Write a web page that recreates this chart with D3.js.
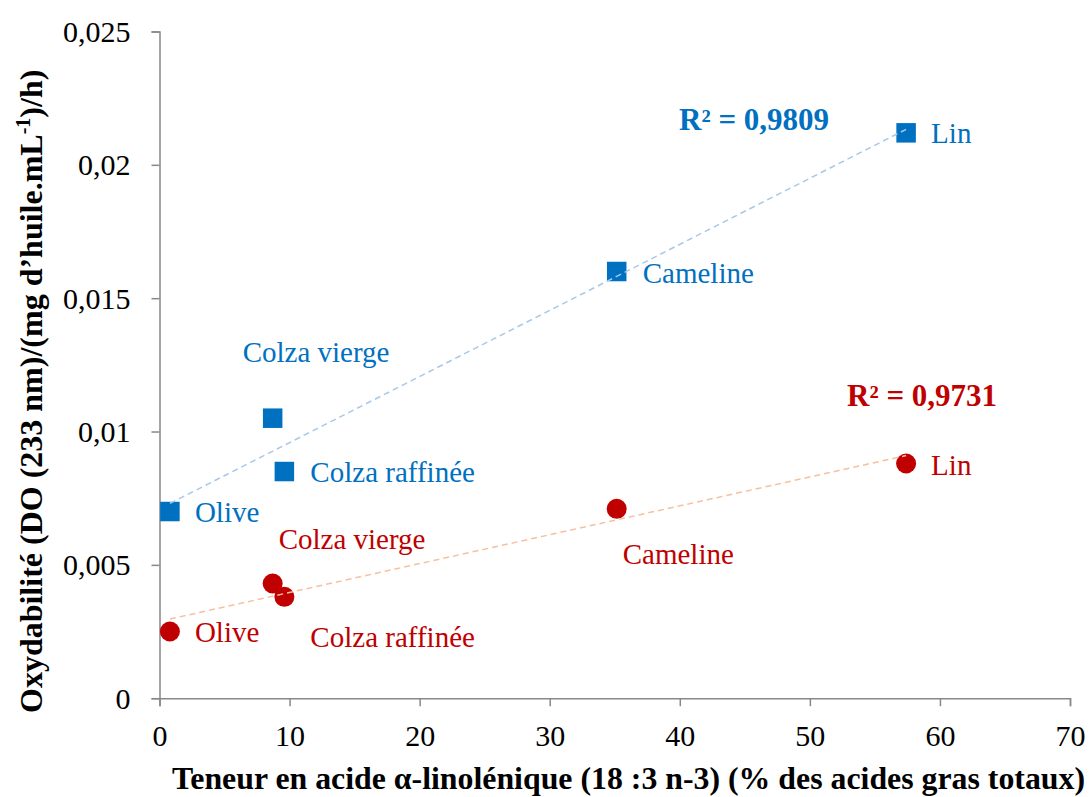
<!DOCTYPE html>
<html>
<head>
<meta charset="utf-8">
<script src="https://cdn.jsdelivr.net/npm/d3@7"></script>
<style>
  html, body { margin: 0; padding: 0; background: #fff; }
  svg { display: block; }
</style>
</head>
<body>
<svg id="chart" width="1089" height="797"></svg>
<script>
// Oils and their alpha-linolenic acid content (% of total fatty acids)
const oils = ["Olive", "Colza vierge", "Colza raffinée", "Cameline", "Lin"];
const alaContent = [0.8, 8.7, 9.6, 35.15, 57.4];

// Oxidability (DO 233 nm per mg oil per mL per hour), two series
const seriesBlue = [0.0070, 0.0105, 0.0085, 0.0160, 0.0212];
const seriesRed  = [0.0025, 0.0043, 0.0038, 0.0071, 0.0088];

// Coefficients of determination printed next to each trendline
const r2Labels = ["R² = 0,9809", "R² = 0,9731"];

// Axis ticks
const xTickValues = [0, 10, 20, 30, 40, 50, 60, 70];
const xTickLabels = ["0", "10", "20", "30", "40", "50", "60", "70"];
const yTickValues = [0, 0.005, 0.01, 0.015, 0.02, 0.025];
const yTickLabels = ["0", "0,005", "0,01", "0,015", "0,02", "0,025"];

// Label placement around each marker (pixel offsets to the text start / baseline)
const blueLabelOffsets = [[25, 10], [-30, -56], [26, 10], [26, 11], [25, 10]];
const redLabelOffsets  = [[25, 10], [6, -35], [26, 50], [6, 55], [25, 11]];

const BLUE = "#0070C0", RED = "#C00000";
const BLUE_TREND = "#a8c8ea", RED_TREND = "#f6c09e";
const AXIS = "#888888";
const FONT = "'Liberation Serif', 'Times New Roman', serif";

const svg = d3.select("#chart");

const x = d3.scaleLinear().domain([0, 70]).range([159.5, 1070]);
const y = d3.scaleLinear().domain([0, 0.025]).range([698.2, 31.5]);

// Y axis
const yAxis = d3.axisLeft(y)
  .tickValues(yTickValues)
  .tickFormat((d, i) => yTickLabels[i])
  .tickSize(8)
  .tickPadding(21);
const gy = svg.append("g").attr("transform", `translate(${x(0)},0)`).call(yAxis);
gy.select(".domain").attr("stroke", AXIS).attr("stroke-width", 1.5);
gy.selectAll(".tick line").attr("stroke", AXIS).attr("stroke-width", 1.5);
gy.selectAll(".tick text")
  .style("font-family", FONT).style("font-size", "30px")
  .attr("fill", "#000").attr("dy", "0.33em");

// X axis
const xAxis = d3.axisBottom(x)
  .tickValues(xTickValues)
  .tickFormat((d, i) => xTickLabels[i])
  .tickSize(8);
const gx = svg.append("g").attr("transform", `translate(0,${y(0)})`).call(xAxis);
gx.select(".domain").attr("stroke", AXIS).attr("stroke-width", 1.5);
gx.selectAll(".tick line").attr("stroke", AXIS).attr("stroke-width", 1.5);
gx.selectAll(".tick text")
  .style("font-family", FONT).style("font-size", "30px")
  .attr("fill", "#000")
  .attr("y", 48).attr("dy", 0);

// Axis titles
svg.append("text")
  .attr("x", 172).attr("y", 789)
  .style("font-family", FONT).style("font-size", "32px").style("font-weight", "bold")
  .attr("textLength", 913).attr("lengthAdjust", "spacingAndGlyphs")
  .text("Teneur en acide α-linolénique (18 :3 n-3) (% des acides gras totaux)");

const yt = svg.append("text")
  .attr("transform", "translate(42,713) rotate(-90)")
  .style("font-family", FONT).style("font-size", "32px").style("font-weight", "bold");
yt.append("tspan").text("Oxydabilité (DO (233 nm)/(mg d’huile.mL");
yt.append("tspan").style("font-size", "20px").attr("dy", -12).text("-1");
yt.append("tspan").attr("dy", 12).text(")/h)");

// Least-squares fit for a series
function fit(xs, ys) {
  const mx = d3.mean(xs), my = d3.mean(ys);
  let sxy = 0, sxx = 0;
  xs.forEach((v, i) => { sxy += (v - mx) * (ys[i] - my); sxx += (v - mx) ** 2; });
  const slope = sxy / sxx;
  return { slope, intercept: my - slope * mx };
}

function drawSeries(values, color, trendColor, offsets, shape) {
  const pts = alaContent.map((a, i) => ({ a, v: values[i], name: oils[i], off: offsets[i] }));
  const g = svg.append("g");
  if (shape === "square") {
    g.selectAll("rect").data(pts).join("rect")
      .attr("x", d => x(d.a) - 9.75).attr("y", d => y(d.v) - 9.75)
      .attr("width", 19.5).attr("height", 19.5)
      .attr("fill", color);
  } else {
    g.selectAll("circle").data(pts).join("circle")
      .attr("cx", d => x(d.a)).attr("cy", d => y(d.v)).attr("r", 10)
      .attr("fill", color);
  }
  // dashed linear trendline across the data range
  const f = fit(alaContent, values);
  const x0 = d3.min(alaContent), x1 = d3.max(alaContent);
  svg.append("line")
    .attr("x1", x(x0)).attr("y1", y(f.intercept + f.slope * x0))
    .attr("x2", x(x1)).attr("y2", y(f.intercept + f.slope * x1))
    .attr("stroke", trendColor).attr("stroke-width", 1.5)
    .attr("stroke-dasharray", "6,4");
  svg.append("g").selectAll("text").data(pts).join("text")
    .attr("x", d => x(d.a) + d.off[0]).attr("y", d => y(d.v) + d.off[1])
    .style("font-family", FONT).style("font-size", "29px")
    .attr("fill", color)
    .text(d => d.name);
}

drawSeries(seriesBlue, BLUE, BLUE_TREND, blueLabelOffsets, "square");
drawSeries(seriesRed, RED, RED_TREND, redLabelOffsets, "circle");

// R² annotations
svg.append("text").attr("x", 679).attr("y", 130)
  .style("font-family", FONT).style("font-size", "31px").style("font-weight", "bold")
  .attr("fill", BLUE)
  .text(r2Labels[0]);
svg.append("text").attr("x", 847).attr("y", 406)
  .style("font-family", FONT).style("font-size", "31px").style("font-weight", "bold")
  .attr("fill", RED)
  .text(r2Labels[1]);
</script>
</body>
</html>
